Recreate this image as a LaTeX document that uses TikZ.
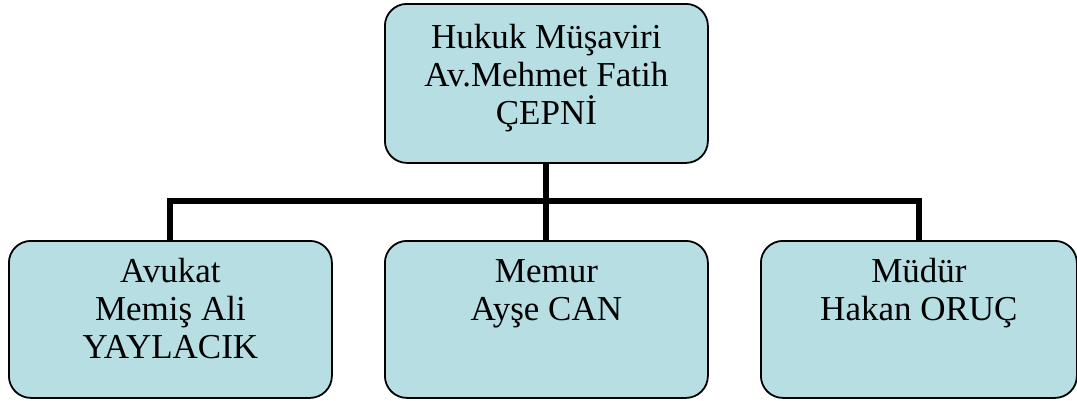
\documentclass[tikz,border=0pt]{standalone}
\usepackage{fontspec}
\setmainfont{Liberation Serif}
\usetikzlibrary{backgrounds}
\definecolor{boxfill}{HTML}{B7DFE3}
\begin{document}
\begin{tikzpicture}[x=1pt,y=-1pt,
  orgbox/.style={draw=black, line width=1.8pt, fill=boxfill, rounded corners=22pt,
    minimum width=#1, minimum height=157pt, inner sep=0pt, anchor=north west},
  orgbox/.default=323pt,
  lbl/.style={align=center, anchor=north, inner sep=0pt,
    font=\fontsize{35}{38}\selectfont},
  conn/.style={draw=black, line width=6pt}]
\useasboundingbox (0,0) rectangle (1077,400);
\node[orgbox, minimum height=159pt] (boss) at (384,3) {};
\node[orgbox] (avukat) at (8,240) {};
\node[orgbox] (memur) at (384,240) {};
\node[orgbox=316pt] (mudur) at (760,240) {};
\coordinate (bar) at (545.5,201);
\begin{scope}[on background layer]
\draw[conn] (boss.south) -- (memur.north);
\draw[conn] (avukat.north) |- (bar) -| (mudur.north);
\end{scope}
\node[lbl] (bosst) at ([yshift=-18.4pt]boss.north) {\strut Hukuk Müşaviri\\Av.Mehmet Fatih\\ÇEPNİ};
\node[lbl] (avukatt) at ([yshift=-15.4pt]avukat.north) {\strut Avukat\\Memiş Ali\\YAYLACIK};
\node[lbl] (memurt) at ([yshift=-15.4pt]memur.north) {\strut Memur\\Ayşe CAN};
\node[lbl] (mudurt) at ([yshift=-15.4pt]mudur.north) {\strut Müdür\\Hakan ORUÇ};
\end{tikzpicture}
\end{document}
